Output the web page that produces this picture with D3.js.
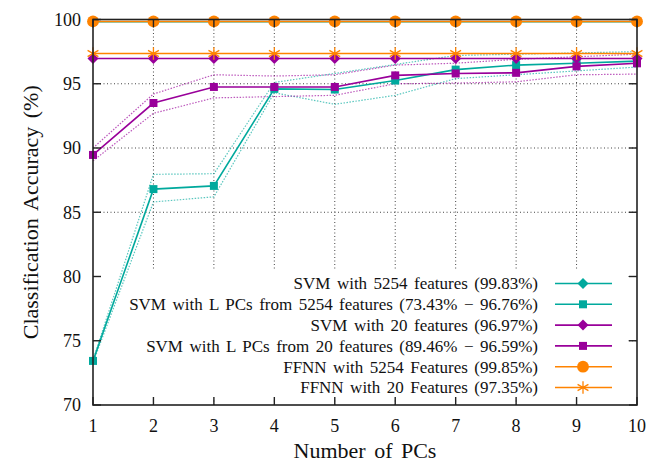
<!DOCTYPE html>
<html><head><meta charset="utf-8">
<script src="https://cdn.jsdelivr.net/npm/d3@7"></script>
<style>body{margin:0;background:#fff}svg{display:block}text{fill:#111}</style>
</head><body><svg id="c" width="667" height="465"></svg>
<script>
const pcs = [1,2,3,4,5,6,7,8,9,10];
const yTicks = [70,75,80,85,90,95,100];
const svm5254 = [99.83,99.83,99.83,99.83,99.83,99.83,99.83,99.83,99.83,99.83];
const svmPC5254 = [73.43,86.8,87.05,94.6,94.55,95.25,96.1,96.45,96.6,96.76];
const svmPC5254Hi = [73.5,87.95,88.0,95.1,95.8,96.5,97.2,97.3,97.4,97.5];
const svmPC5254Lo = [73.3,85.8,86.2,94.3,93.4,94.1,95.4,95.7,96.0,96.3];
const svm20 = [96.97,96.97,96.97,96.97,96.97,96.97,96.97,96.97,96.97,96.97];
const svmPC20 = [89.46,93.5,94.75,94.75,94.75,95.65,95.8,95.85,96.35,96.59];
const svmPC20Hi = [90.0,94.2,95.7,95.6,95.7,96.45,96.6,96.9,97.1,97.3];
const svmPC20Lo = [89.0,92.7,93.9,94.0,94.1,95.0,95.05,95.15,95.7,95.75];
const ffnn5254 = [99.85,99.85,99.85,99.85,99.85,99.85,99.85,99.85,99.85,99.85];
const ffnn20 = [97.35,97.35,97.35,97.35,97.35,97.35,97.35,97.35,97.35,97.35];
const legendLabels = [
  "SVM with 5254 features (99.83%)",
  "SVM with L PCs from 5254 features (73.43% \u2212 96.76%)",
  "SVM with 20 features (96.97%)",
  "SVM with L PCs from 20 features (89.46% \u2212 96.59%)",
  "FFNN with 5254 Features (99.85%)",
  "FFNN with 20 Features (97.35%)"
];

const FONT = "'Liberation Serif', Tinos, 'Times New Roman', Times, 'DejaVu Serif', serif";
const TEAL = "#00a99d", PURPLE = "#99009a", ORANGE = "#ff8300";
const svg = d3.select("#c").attr("font-family", FONT);
const L = 93, R = 637, T = 19.5, B = 405;
const x = d3.scaleLinear().domain([1,10]).range([L,R]);
const y = d3.scaleLinear().domain([70,100]).range([B,T]);

// grid
const grid = svg.append("g");
grid.selectAll(".gx").data(pcs.slice(1,-1)).join("line")
  .attr("x1",d=>x(d)).attr("x2",d=>x(d)).attr("y1",B).attr("y2",T)
  .attr("stroke","#444").attr("stroke-width",1).attr("stroke-dasharray","1,2.5");
grid.selectAll(".gy").data(yTicks.slice(1,-1)).join("line")
  .attr("x1",L).attr("x2",R).attr("y1",d=>y(d)).attr("y2",d=>y(d))
  .attr("stroke","#444").attr("stroke-width",1).attr("stroke-dasharray","1,2.5");

// legend background (opaque key)
svg.append("rect").attr("x",96).attr("y",270).attr("width",530).attr("height",130).attr("fill","#fff");

const line = d3.line().x((d,i)=>x(pcs[i])).y(d=>y(d));
function band(data,color){
  svg.append("path").attr("d",line(data)).attr("fill","none").attr("stroke",color)
    .attr("stroke-width",1.2).attr("stroke-dasharray","1.5,1.5").attr("opacity",0.65);
}
function solid(data,color){
  svg.append("path").attr("d",line(data)).attr("fill","none").attr("stroke",color).attr("stroke-width",1.6);
}
const sym = {
  diamond: "M0,-5.5L5.5,0L0,5.5L-5.5,0Z",
  square: d3.symbol().type(d3.symbolSquare).size(64)(),
  circle: d3.symbol().type(d3.symbolCircle).size(110)(),
  star: d3.symbol().type(d3.symbolAsterisk).size(110)()
};
function markers(g, px, py, kind, color){
  const p = g.append("path").attr("d",sym[kind]).attr("transform",`translate(${px},${py})`);
  if(kind==="star") p.attr("fill","none").attr("stroke",color).attr("stroke-width",1.3);
  else p.attr("fill",color);
}
function points(data,kind,color){
  const g = svg.append("g");
  data.forEach((d,i)=>markers(g,x(pcs[i]),y(d),kind,color));
}

band(svmPC5254Hi,TEAL); band(svmPC5254Lo,TEAL);
band(svmPC20Hi,PURPLE); band(svmPC20Lo,PURPLE);

solid(svm5254,TEAL); points(svm5254,"diamond",TEAL);
solid(svmPC5254,TEAL); points(svmPC5254,"square",TEAL);
solid(svm20,PURPLE); points(svm20,"diamond",PURPLE);
solid(svmPC20,PURPLE); points(svmPC20,"square",PURPLE);
solid(ffnn5254,ORANGE); points(ffnn5254,"circle",ORANGE);
solid(ffnn20,ORANGE); points(ffnn20,"star",ORANGE);

// frame
svg.append("rect").attr("x",L).attr("y",T).attr("width",R-L).attr("height",B-T)
  .attr("fill","none").attr("stroke","#222").attr("stroke-width",1.6);

// axes ticks inward
const ax = svg.append("g");
ax.selectAll(".tl").data(yTicks).join("line").attr("x1",L).attr("x2",L+8).attr("y1",d=>y(d)).attr("y2",d=>y(d)).attr("stroke","#222").attr("stroke-width",1.4);
ax.selectAll(".tr").data(yTicks).join("line").attr("x1",R).attr("x2",R-8).attr("y1",d=>y(d)).attr("y2",d=>y(d)).attr("stroke","#222").attr("stroke-width",1.4);
ax.selectAll(".tb").data(pcs).join("line").attr("x1",d=>x(d)).attr("x2",d=>x(d)).attr("y1",B).attr("y2",B-8).attr("stroke","#222").attr("stroke-width",1.4);
ax.selectAll(".tt").data(pcs).join("line").attr("x1",d=>x(d)).attr("x2",d=>x(d)).attr("y1",T).attr("y2",T+8).attr("stroke","#222").attr("stroke-width",1.4);

ax.selectAll(".yl").data(yTicks).join("text").attr("font-family",FONT).attr("x",L-12).attr("y",d=>y(d)).attr("dy","0.35em")
  .attr("text-anchor","end").attr("font-size",18).text(d=>d);
ax.selectAll(".xl").data(pcs).join("text").attr("font-family",FONT).attr("x",d=>x(d)).attr("y",B+27)
  .attr("text-anchor","middle").attr("font-size",18).text(d=>d);

svg.append("text").attr("font-family",FONT).attr("x",(L+R)/2).attr("y",458).attr("text-anchor","middle").attr("font-size",22).attr("word-spacing",3).text("Number of PCs");
svg.append("text").attr("font-family",FONT).attr("transform",`translate(38,${(T+B)/2}) rotate(-90)`).attr("text-anchor","middle").attr("font-size",22).attr("word-spacing",3).text("Classification Accuracy (%)");

// legend
const lg = [
  {c:TEAL,k:"diamond"},{c:TEAL,k:"square"},{c:PURPLE,k:"diamond"},{c:PURPLE,k:"square"},{c:ORANGE,k:"circle"},{c:ORANGE,k:"star"}
];
const lgY = d3.scaleLinear().domain([0,5]).range([283.5,387.5]);
lg.forEach((d,i)=>{
  const yy = lgY(i);
  svg.append("text").attr("font-family",FONT).attr("x",538).attr("y",yy).attr("dy","0.35em").attr("text-anchor","end").attr("font-size",17).attr("word-spacing",2.2).text(legendLabels[i]);
  svg.append("line").attr("x1",555).attr("x2",612).attr("y1",yy).attr("y2",yy).attr("stroke",d.c).attr("stroke-width",1.6);
  markers(svg,583,yy,d.k,d.c);
});
</script></body></html>
